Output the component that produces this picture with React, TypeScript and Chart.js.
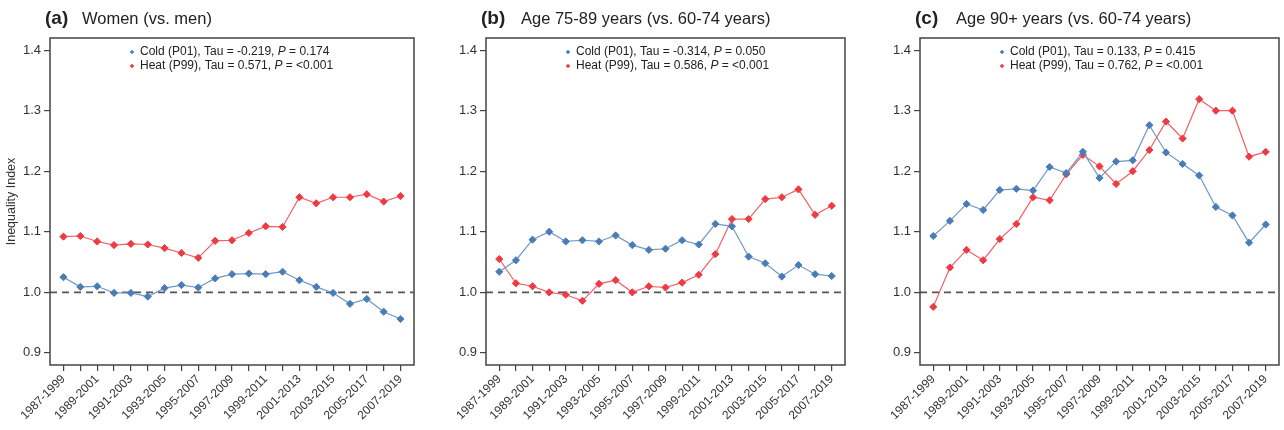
import React, { useEffect, useRef } from 'react';
import { Chart, registerables } from 'chart.js';

Chart.register(...registerables);

const periods = [
  '1987-1999', '1988-2000', '1989-2001', '1990-2002', '1991-2003', '1992-2004', '1993-2005',
  '1994-2006', '1995-2007', '1996-2008', '1997-2009', '1998-2010', '1999-2011', '2000-2012',
  '2001-2013', '2002-2014', '2003-2015', '2004-2016', '2005-2017', '2006-2018', '2007-2019',
];

const yTickValues = [0.9, 1.0, 1.1, 1.2, 1.3, 1.4];

// Panel (a) Women (vs. men)
const coldA = [1.025, 1.009, 1.010, 0.999, 0.999, 0.993, 1.007, 1.012, 1.008, 1.023, 1.030, 1.031, 1.030, 1.034, 1.020, 1.009, 0.999, 0.981, 0.989, 0.968, 0.956];
const heatA = [1.092, 1.093, 1.084, 1.078, 1.080, 1.079, 1.073, 1.065, 1.057, 1.085, 1.086, 1.098, 1.109, 1.108, 1.157, 1.147, 1.157, 1.157, 1.162, 1.150, 1.159];

// Panel (b) Age 75-89 years (vs. 60-74 years)
const coldB = [1.034, 1.053, 1.087, 1.100, 1.084, 1.086, 1.084, 1.094, 1.078, 1.070, 1.072, 1.086, 1.079, 1.113, 1.109, 1.059, 1.048, 1.026, 1.045, 1.030, 1.027];
const heatB = [1.055, 1.015, 1.010, 1.000, 0.996, 0.986, 1.014, 1.020, 1.000, 1.010, 1.008, 1.016, 1.029, 1.063, 1.121, 1.121, 1.154, 1.157, 1.170, 1.128, 1.143];

// Panel (c) Age 90+ years (vs. 60-74 years)
const coldC = [1.093, 1.118, 1.146, 1.136, 1.169, 1.171, 1.168, 1.207, 1.197, 1.232, 1.189, 1.216, 1.218, 1.276, 1.231, 1.212, 1.193, 1.141, 1.127, 1.082, 1.112];
const heatC = [0.976, 1.041, 1.070, 1.053, 1.088, 1.113, 1.157, 1.152, 1.195, 1.227, 1.208, 1.179, 1.200, 1.235, 1.282, 1.254, 1.319, 1.300, 1.300, 1.224, 1.232];

const panelLetters = ['a', 'b', 'c'];
const panelTitles = ['Women (vs. men)', 'Age 75-89 years (vs. 60-74 years)', 'Age 90+ years (vs. 60-74 years)'];
const coldTau = ['-0.219', '-0.314', '0.133'];
const coldP = ['0.174', '0.050', '0.415'];
const heatTau = ['0.571', '0.586', '0.762'];
const heatP = ['<0.001', '<0.001', '<0.001'];
const coldSeries = [coldA, coldB, coldC];
const heatSeries = [heatA, heatB, heatC];
const yAxisTitle = 'Inequality Index';

const FONT = "'Liberation Sans', Arial, Helvetica, sans-serif";
const BLUE = '#4a7db8';
const BLUE_LINE = '#6f98c9';
const RED = '#ee3a42';
const RED_LINE = '#f35e63';

const layoutSpec = [
  { left: 0, width: 425, chartLeft: 50, padRight: 11, titleGap: 37 },
  { left: 425, width: 425, chartLeft: 61, padRight: 1, titleGap: 40 },
  { left: 850, width: 434, chartLeft: 70, padRight: 1, titleGap: 41 },
];

function Panel({ idx }: { idx: number }) {
  const ref = useRef<HTMLCanvasElement | null>(null);
  const spec = layoutSpec[idx];

  useEffect(() => {
    if (!ref.current) return;
    const cold = coldSeries[idx];
    const heat = heatSeries[idx];

    const decor = {
      id: 'decor' + idx,
      beforeDatasetsDraw(chart: any) {
        const { ctx, chartArea: ca, scales } = chart;
        const y1 = scales.y.getPixelForValue(1.0);
        ctx.save();
        ctx.strokeStyle = '#555';
        ctx.lineWidth = 1.6;
        ctx.setLineDash([7, 5]);
        ctx.beginPath();
        ctx.moveTo(ca.left, y1);
        ctx.lineTo(ca.right, y1);
        ctx.stroke();
        ctx.restore();
      },
      afterDraw(chart: any) {
        const { ctx, chartArea: ca } = chart;
        ctx.save();
        // box
        ctx.strokeStyle = '#444';
        ctx.lineWidth = 1.5;
        ctx.strokeRect(ca.left, ca.top, ca.right - ca.left, ca.bottom - ca.top);

        // title
        ctx.fillStyle = '#222';
        ctx.textBaseline = 'alphabetic';
        ctx.textAlign = 'left';
        const tx = ca.left - 5;
        ctx.font = `bold 19px ${FONT}`;
        ctx.fillText(`(${panelLetters[idx]})`, tx, 24);
        ctx.font = `16.5px ${FONT}`;
        ctx.fillText(panelTitles[idx], tx + spec.titleGap, 24);

        // legend
        const rows = [
          { color: BLUE, name: 'Cold (P01)', tau: coldTau[idx], p: coldP[idx], y: 52 },
          { color: RED, name: 'Heat (P99)', tau: heatTau[idx], p: heatP[idx], y: 66 },
        ];
        const mx = ca.left + 82;
        rows.forEach((r) => {
          ctx.fillStyle = r.color;
          ctx.beginPath();
          ctx.moveTo(mx, r.y - 2.3);
          ctx.lineTo(mx + 2.3, r.y);
          ctx.lineTo(mx, r.y + 2.3);
          ctx.lineTo(mx - 2.3, r.y);
          ctx.closePath();
          ctx.fill();
          ctx.fillStyle = '#222';
          ctx.textBaseline = 'middle';
          let x = mx + 8;
          ctx.font = `12px ${FONT}`;
          const s1 = `${r.name}, Tau = ${r.tau}, `;
          ctx.fillText(s1, x, r.y);
          x += ctx.measureText(s1).width;
          ctx.font = `italic 12px ${FONT}`;
          ctx.fillText('P', x, r.y);
          x += ctx.measureText('P').width;
          ctx.font = `12px ${FONT}`;
          ctx.fillText(` = ${r.p}`, x, r.y);
        });
        ctx.restore();
      },
    };

    const chart = new Chart(ref.current, {
      type: 'line',
      data: {
        datasets: [
          {
            label: 'Cold (P01)',
            data: cold.map((v, i) => ({ x: i, y: v })),
            borderColor: BLUE_LINE,
            backgroundColor: BLUE,
            pointBackgroundColor: BLUE,
            pointBorderColor: BLUE,
            borderWidth: 1.2,
            pointStyle: 'rectRot',
            pointRadius: 3.6,
            pointBorderWidth: 1,
            tension: 0,
          },
          {
            label: 'Heat (P99)',
            data: heat.map((v, i) => ({ x: i, y: v })),
            borderColor: RED_LINE,
            backgroundColor: RED,
            pointBackgroundColor: RED,
            pointBorderColor: RED,
            borderWidth: 1.2,
            pointStyle: 'rectRot',
            pointRadius: 3.6,
            pointBorderWidth: 1,
            tension: 0,
          },
        ],
      },
      options: {
        animation: false,
        responsive: false,
        events: [],
        layout: { padding: { left: 0, right: spec.padRight, top: 38, bottom: 0 } },
        plugins: { legend: { display: false }, tooltip: { enabled: false }, title: { display: false } },
        scales: {
          x: {
            type: 'linear',
            min: -0.8,
            max: 20.8,
            afterBuildTicks: (s: any) => {
              s.ticks = periods.map((_, i) => ({ value: i }));
            },
            afterFit: (s: any) => {
              s.height = 65;
              s.paddingLeft = 0;
              s.paddingRight = 0;
            },
            grid: { drawOnChartArea: false, drawTicks: true, tickLength: 6, color: '#444', lineWidth: 1.2 },
            border: { display: false },
            ticks: {
              autoSkip: false,
              minRotation: 45,
              maxRotation: 45,
              padding: 1,
              color: '#333',
              font: { size: 12, family: FONT },
              callback: (v: any) => {
                const i = Math.round(Number(v));
                return i % 2 === 0 ? periods[i] : '';
              },
            },
          },
          y: {
            type: 'linear',
            min: 0.88,
            max: 1.42,
            afterBuildTicks: (s: any) => {
              s.ticks = yTickValues.map((v) => ({ value: v }));
            },
            afterFit: (s: any) => {
              s.width = spec.chartLeft;
              s.paddingTop = 0;
              s.paddingBottom = 0;
            },
            grid: { drawOnChartArea: false, drawTicks: true, tickLength: 6, color: '#444', lineWidth: 1.2 },
            border: { display: false },
            ticks: {
              padding: 3,
              color: '#333',
              font: { size: 13, family: FONT },
              callback: (v: any) => Number(v).toFixed(1),
            },
            title: {
              display: idx === 0,
              text: yAxisTitle,
              color: '#333',
              font: { size: 12.5, family: FONT },
              padding: { top: 4, bottom: 0 },
            },
          },
        },
      },
      plugins: [decor],
    } as any);

    return () => chart.destroy();
  }, [idx]);

  return (
    <div style={{ position: 'absolute', left: spec.left, top: 0, width: spec.width, height: 430 }}>
      <canvas ref={ref} width={spec.width} height={430} style={{ display: 'block' }} />
    </div>
  );
}

export default function App() {
  return (
    <div style={{ position: 'fixed', left: 0, top: 0, width: 1284, height: 430, background: '#fff', overflow: 'hidden' }}>
      <Panel idx={0} />
      <Panel idx={1} />
      <Panel idx={2} />
    </div>
  );
}
